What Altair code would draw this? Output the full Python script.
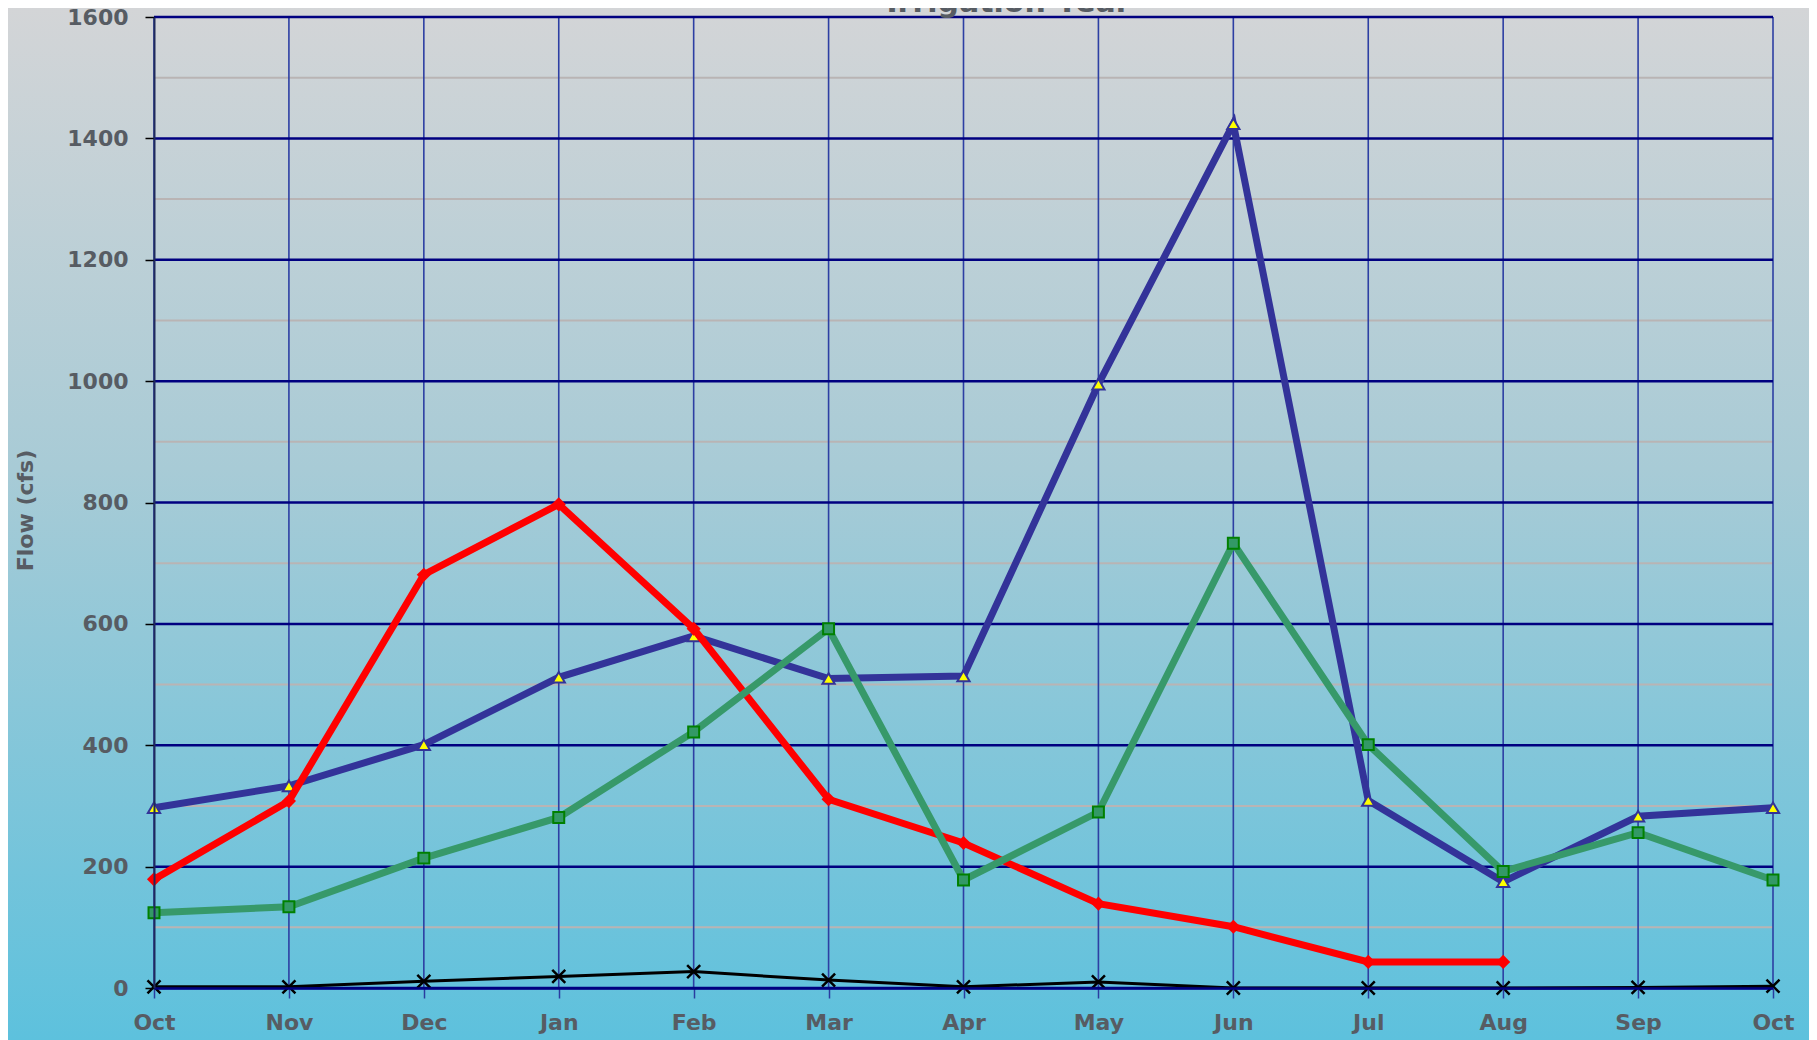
import altair as alt
import pandas as pd

# ---- data ----
title_text = ["Irrigation Year"]
months = ["Oct", "Nov", "Dec", "Jan", "Feb", "Mar", "Apr", "May", "Jun", "Jul", "Aug", "Sep", "Oct"]
blue_vals = [297, 333, 401, 512, 580, 510, 514, 995, 1424, 309, 175, 283, 297]
red_vals = [179, 308, 681, 797, 592, 311, 239, 139, 101, 43, 43, None, None]
green_vals = [124, 134, 214, 281, 422, 592, 178, 290, 733, 401, 192, 256, 178]
black_vals = [2, 2, 11, 19, 27, 13, 2, 10, 0, 0, 0, 1, 3]

y_major = [0, 200, 400, 600, 800, 1000, 1200, 1400, 1600]
y_minor = [100, 300, 500, 700, 900, 1100, 1300, 1500]

W, H = 1619, 971
FONT = "DejaVu Sans"
TXT = "#575c63"

idx = list(range(len(months)))
label_expr = "[" + ",".join("'" + m + "'" for m in months) + "][datum.value]"

x_scale = alt.Scale(domain=[0, len(months) - 1], nice=False, zero=False)
y_scale = alt.Scale(domain=[0, 1600], nice=False)

x_axis = alt.Axis(values=idx, labelExpr=label_expr, grid=False, zindex=1,
                  labelFlush=False, labelOverlap=False,
                  domainColor="#000080", domainWidth=2.5,
                  tickColor="#2a3ca0", tickSize=10, tickWidth=1.5,
                  labelFont=FONT, labelFontSize=22, labelFontWeight="bold",
                  labelColor=TXT, labelPadding=14, title=None)
y_axis = alt.Axis(values=y_major, format="d", grid=False, zindex=1,
                  labelFlush=False, labelOverlap=False,
                  domainColor="#1f2a5c", domainWidth=2,
                  tickColor="black", tickSize=9, tickWidth=1.5,
                  labelFont=FONT, labelFontSize=22, labelFontWeight="bold",
                  labelColor=TXT, labelPadding=17,
                  title="Flow (cfs)", titleFont=FONT, titleFontSize=22,
                  titleFontWeight="bold", titleColor=TXT,
                  titleX=-129, titleY=493, titleAngle=270,
                  titleAlign="center", titleBaseline="middle")


def xenc(field="i"):
    return alt.X(f"{field}:Q", scale=x_scale, axis=x_axis)


def yenc(field="v"):
    return alt.Y(f"{field}:Q", scale=y_scale, axis=y_axis)


# background gradient (decoration)
bg = alt.Chart(pd.DataFrame({"a": [0]})).mark_rect(
    fill=alt.LinearGradient(
        gradient="linear", x1=0, x2=0, y1=0, y2=1,
        stops=[alt.GradientStop(offset=0, color="#d4d5d7"),
               alt.GradientStop(offset=0.45, color="#a8cbd6"),
               alt.GradientStop(offset=1, color="#5dc1dd")]),
    strokeWidth=0,
).encode(x=alt.value(-160), x2=alt.value(W + 60), y=alt.value(-17), y2=alt.value(H + 52))

minor_rules = alt.Chart(pd.DataFrame({"v": y_minor})).mark_rule(
    color="#b9b4b4", strokeWidth=2).encode(y=yenc())
vert_rules = alt.Chart(pd.DataFrame({"i": idx})).mark_rule(
    color="#2d3fa3", strokeWidth=1.6).encode(x=xenc())
major_rules = alt.Chart(pd.DataFrame({"v": y_major})).mark_rule(
    color="#000080", strokeWidth=2.5).encode(y=yenc())


def series(vals, line_color, line_width, point_kwargs):
    df = pd.DataFrame({"i": idx, "v": vals}).dropna()
    base = alt.Chart(df).encode(x=xenc(), y=yenc())
    line = base.mark_line(color=line_color, strokeWidth=line_width)
    pts = base.mark_point(opacity=1, **point_kwargs)
    return line + pts


blue = series(blue_vals, "#333399", 7,
              dict(shape="triangle-up", filled=True, fill="#ffff00",
                   stroke="#333399", strokeWidth=2, size=150))
red = series(red_vals, "#ff0000", 7,
             dict(shape="diamond", filled=True, color="#ff0000", size=200))
green = series(green_vals, "#37996a", 7,
               dict(shape="square", filled=True, fill="#339966",
                    stroke="#008000", strokeWidth=2, size=120))
black = series(black_vals, "#000000", 3,
               dict(shape="M-1,-1L1,1M-1,1L1,-1", filled=False,
                    stroke="#000000", strokeWidth=2.5, size=170))

# chart title, partly above the top edge as in the reference
title = alt.Chart(pd.DataFrame({"t": title_text})).mark_text(
    font=FONT, fontSize=30, fontWeight="bold", color=TXT,
    align="center", baseline="alphabetic",
).encode(text="t:N", x=alt.value(W / 2 + 45), y=alt.value(-5))

chart = alt.layer(bg, minor_rules, vert_rules, major_rules,
                  blue, red, green, black, title).properties(
    width=W, height=H,
    autosize=alt.AutoSizeParams(type="none"),
    padding={"left": 146, "top": 9, "right": 36, "bottom": 52},
    background="white",
).configure_view(stroke=None)

chart.save("out.html", embed_options={"renderer": "svg", "actions": False})
